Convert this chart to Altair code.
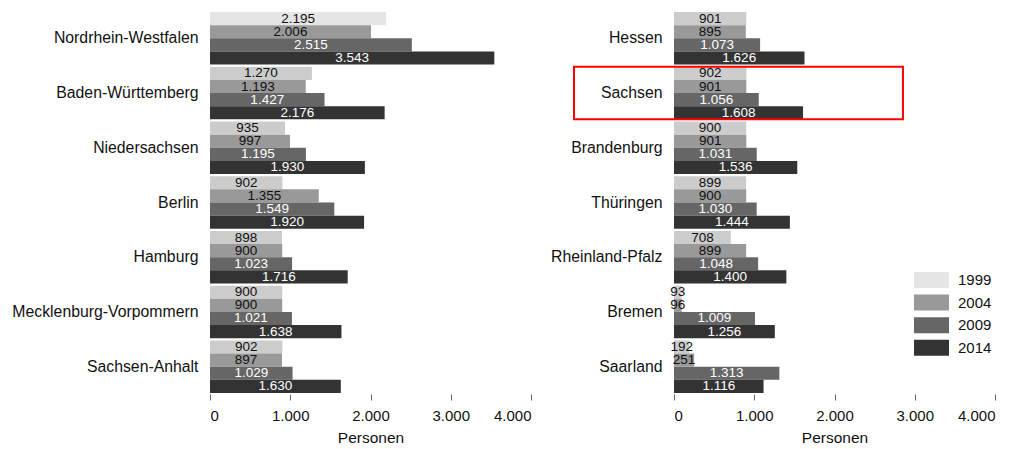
import altair as alt
import pandas as pd

years = ["1999", "2004", "2009", "2014"]

states_left = ["Nordrhein-Westfalen", "Baden-Württemberg", "Niedersachsen", "Berlin",
               "Hamburg", "Mecklenburg-Vorpommern", "Sachsen-Anhalt"]
v1999_left = [2195, 1270, 935, 902, 898, 900, 902]
v2004_left = [2006, 1193, 997, 1355, 900, 900, 897]
v2009_left = [2515, 1427, 1195, 1549, 1023, 1021, 1029]
v2014_left = [3543, 2176, 1930, 1920, 1716, 1638, 1630]

states_right = ["Hessen", "Sachsen", "Brandenburg", "Thüringen",
                "Rheinland-Pfalz", "Bremen", "Saarland"]
v1999_right = [901, 902, 900, 899, 708, 93, 192]
v2004_right = [895, 901, 901, 900, 899, 96, 251]
v2009_right = [1073, 1056, 1031, 1030, 1048, 1009, 1313]
v2014_right = [1626, 1608, 1536, 1444, 1400, 1256, 1116]

tick_values = [0, 1000, 2000, 3000, 4000]
highlight_state = "Sachsen"
highlight_x = [-1246, 2853]

FONT = "Liberation Sans"
colors = ["#e5e5e5", "#999999", "#666666", "#333333"]


def make_df(states, series):
    rows = []
    for i, s in enumerate(states):
        for y, arr in zip(years, series):
            v = arr[i]
            rows.append(dict(state=s, year=y, value=v,
                             label=f"{v:,}".replace(",", ".")))
    return pd.DataFrame(rows)


df_left = make_df(states_left, [v1999_left, v2004_left, v2009_left, v2014_left])
df_right = make_df(states_right, [v1999_right, v2004_right, v2009_right, v2014_right])

color_scale = alt.Scale(domain=years, range=colors)
x_scale = alt.Scale(domain=[0, 4000], nice=False, zero=True)


def panel(df, states, with_highlight=False):
    y_enc = alt.Y("state:N", sort=states,
                  scale=alt.Scale(paddingInner=0.04, paddingOuter=0.02),
                  axis=alt.Axis(title=None, domain=False, ticks=False, labelPadding=12,
                                labelFontSize=15.8, labelColor="#111111", labelFont=FONT,
                                labelLimit=300))
    yoff = alt.YOffset("year:N", sort=years, scale=alt.Scale(paddingInner=0, paddingOuter=0))
    x_axis = alt.Axis(values=tick_values, domain=False, ticks=True, tickSize=6,
                      tickColor="#666666", labelFontSize=15, labelFont=FONT,
                      labelColor="#111111", labelPadding=8, grid=False,
                      labelExpr="replace(format(datum.value, ','), ',', '.')",
                      title="Personen", titleFont=FONT, titleFontSize=15.5,
                      titleFontWeight="normal", titleColor="#111111", titlePadding=7)
    base = alt.Chart(df).encode(y=y_enc, yOffset=yoff)
    bars = base.mark_bar().encode(
        x=alt.X("value:Q", scale=x_scale, axis=x_axis),
        color=alt.condition(
            "datum.year == '1999' && datum.state != 'Nordrhein-Westfalen'",
            alt.value("#cccccc"),
            alt.Color("year:N", scale=color_scale, sort=years,
                      legend=alt.Legend(title=None, orient="none", legendX=713.5, legendY=261,
                                        symbolType="M-2.1875,-1H2.1875V1H-2.1875Z",
                                        symbolSize=256,
                                        symbolStrokeWidth=0, labelFontSize=15,
                                        labelFont=FONT, labelColor="#111111",
                                        labelOffset=18.5, rowPadding=6.6)),
        ),
    )
    text = base.mark_text(align="center", baseline="middle", fontSize=13.5, font=FONT).encode(
        x=alt.X("mid:Q", scale=x_scale),
        text="label:N",
        color=alt.condition("datum.year == '2009' || datum.year == '2014'",
                            alt.value("white"), alt.value("#111111")),
    ).transform_calculate(mid="datum.value / 2")
    layers = [bars, text]
    if with_highlight:
        hdf = pd.DataFrame({"state": [highlight_state], "x0": [highlight_x[0]],
                            "x1": [highlight_x[1]]})
        rect = alt.Chart(hdf).mark_rect(filled=False, stroke="#ff0000", strokeWidth=2).encode(
            y=alt.Y("state:N", sort=states),
            x=alt.X("x0:Q", scale=x_scale),
            x2="x1:Q",
        )
        layers.append(rect)
    return alt.layer(*layers).properties(width=321, height=383)


chart = alt.hconcat(
    panel(df_left, states_left),
    panel(df_right, states_right, with_highlight=True),
    spacing=18,
).properties(
    padding={"left": 3, "top": 3, "right": 0, "bottom": 0}
).configure(font=FONT).configure_view(stroke=None)

chart.save("out.html", embed_options={"renderer": "svg", "actions": False})
